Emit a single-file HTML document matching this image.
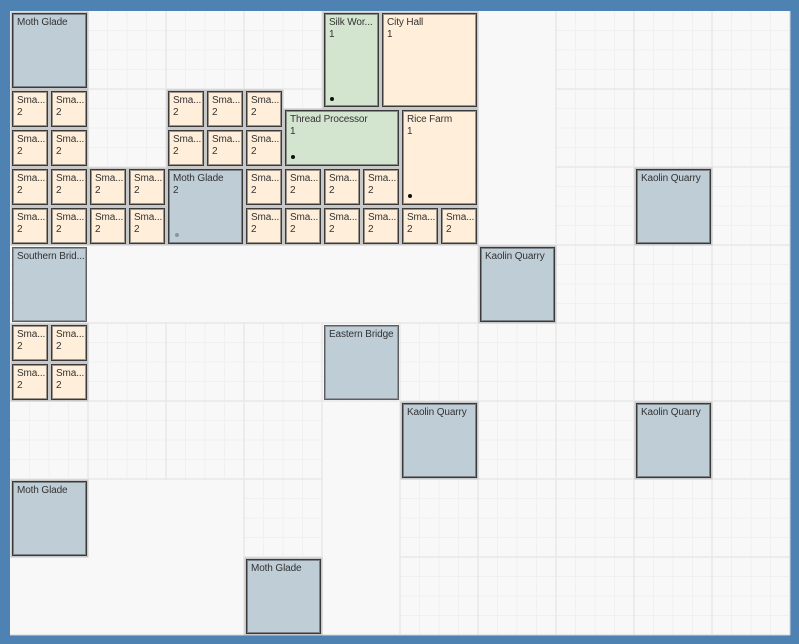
<!DOCTYPE html>
<html>
<head>
<meta charset="utf-8">
<style>
html,body{margin:0;padding:0;width:799px;height:644px;overflow:hidden;background:#4e82b2}
#root{position:relative;width:799px;height:644px;overflow:hidden;filter:blur(.3px);background:#4e82b2}
#root svg{position:absolute;left:0;top:0}
.n{position:absolute;box-sizing:border-box;border:1px solid #3a3a3a;padding:3px 0 0 4px;font:10px/11.5px "Liberation Sans",Arial,sans-serif;letter-spacing:-.12px;color:#333;white-space:nowrap;overflow:hidden;box-shadow:inset 0 0 0 1px rgba(60,60,60,.5),0 0 0 1.5px #c8c8c8}
.s{width:36px;height:36px;background:#ffeed9}
.b{width:75px;height:75px;background:#bfcdd7}
.p{background:#ffeed9}
.g{background:#d3e4cf}
.nh{box-shadow:inset 0 0 0 1px rgba(100,100,100,.5);border-color:#5e5e5e}
.d{position:absolute;width:4px;height:4px;border-radius:50%;background:#111}
</style>
</head>
<body>
<div id="root">
<svg width="799" height="644" xmlns="http://www.w3.org/2000/svg">
<rect x="10" y="11" width="780" height="624" fill="#f8f8f8"/>
<path fill="none" stroke="#f0f0f0" stroke-width="1" d="M29.5 11V635M49 11V635M68.5 11V635M107.5 11V635M127 11V635M146.5 11V635M185.5 11V635M205 11V635M224.5 11V635M263.5 11V635M283 11V635M302.5 11V635M341.5 11V635M361 11V635M380.5 11V635M419.5 11V635M439 11V635M458.5 11V635M497.5 11V635M517 11V635M536.5 11V635M575.5 11V635M595 11V635M614.5 11V635M653.5 11V635M673 11V635M692.5 11V635M731.5 11V635M751 11V635M770.5 11V635M10 30.5H790M10 50H790M10 69.5H790M10 108.5H790M10 128H790M10 147.5H790M10 186.5H790M10 206H790M10 225.5H790M10 264.5H790M10 284H790M10 303.5H790M10 342.5H790M10 362H790M10 381.5H790M10 420.5H790M10 440H790M10 459.5H790M10 498.5H790M10 518H790M10 537.5H790M10 576.5H790M10 596H790M10 615.5H790"/>
<path fill="none" stroke="#e8e8e8" stroke-width="1.5" d="M88 11V635M166 11V635M244 11V635M322 11V635M400 11V635M478 11V635M556 11V635M634 11V635M712 11V635M10 89H790M10 167H790M10 245H790M10 323H790M10 401H790M10 479H790M10 557H790"/>
<g fill="#f8f8f8">
<rect x="87" y="244" width="390" height="78"/>
<rect x="479" y="11" width="76" height="233"/>
<rect x="323" y="402" width="76" height="233"/>
<rect x="87" y="480" width="156" height="155"/>
<rect x="10" y="558" width="233" height="77"/>
</g>
<rect x="789.5" y="11" width="1" height="624" fill="#cfd6dc"/>
<rect x="10" y="634.5" width="780" height="1" fill="#cfd6dc"/>
</svg>

<div class="n b" style="left:12px;top:13px">Moth Glade</div>

<div class="n s" style="left:12px;top:91px">Sma...<br>2</div>
<div class="n s" style="left:51px;top:91px">Sma...<br>2</div>
<div class="n s" style="left:12px;top:130px">Sma...<br>2</div>
<div class="n s" style="left:51px;top:130px">Sma...<br>2</div>

<div class="n s" style="left:168px;top:91px">Sma...<br>2</div>
<div class="n s" style="left:207px;top:91px">Sma...<br>2</div>
<div class="n s" style="left:246px;top:91px">Sma...<br>2</div>
<div class="n s" style="left:168px;top:130px">Sma...<br>2</div>
<div class="n s" style="left:207px;top:130px">Sma...<br>2</div>
<div class="n s" style="left:246px;top:130px">Sma...<br>2</div>

<div class="n s" style="left:12px;top:169px">Sma...<br>2</div>
<div class="n s" style="left:51px;top:169px">Sma...<br>2</div>
<div class="n s" style="left:90px;top:169px">Sma...<br>2</div>
<div class="n s" style="left:129px;top:169px">Sma...<br>2</div>
<div class="n s" style="left:246px;top:169px">Sma...<br>2</div>
<div class="n s" style="left:285px;top:169px">Sma...<br>2</div>
<div class="n s" style="left:324px;top:169px">Sma...<br>2</div>
<div class="n s" style="left:363px;top:169px">Sma...<br>2</div>

<div class="n s" style="left:12px;top:208px">Sma...<br>2</div>
<div class="n s" style="left:51px;top:208px">Sma...<br>2</div>
<div class="n s" style="left:90px;top:208px">Sma...<br>2</div>
<div class="n s" style="left:129px;top:208px">Sma...<br>2</div>
<div class="n s" style="left:246px;top:208px">Sma...<br>2</div>
<div class="n s" style="left:285px;top:208px">Sma...<br>2</div>
<div class="n s" style="left:324px;top:208px">Sma...<br>2</div>
<div class="n s" style="left:363px;top:208px">Sma...<br>2</div>
<div class="n s" style="left:402px;top:208px">Sma...<br>2</div>
<div class="n s" style="left:441px;top:208px">Sma...<br>2</div>

<div class="n b" style="left:168px;top:169px">Moth Glade<br>2</div>
<div class="d" style="left:174.5px;top:233px;background:#8a979f"></div>

<div class="n g" style="left:324px;top:13px;width:55px;height:94px">Silk Wor...<br>1</div>
<div class="d" style="left:330px;top:96.5px"></div>
<div class="n p" style="left:382px;top:13px;width:95px;height:94px">City Hall<br>1</div>
<div class="n g" style="left:285px;top:110px;width:114px;height:56px">Thread Processor<br>1</div>
<div class="d" style="left:291px;top:155px"></div>
<div class="n p" style="left:402px;top:110px;width:75px;height:95px">Rice Farm<br>1</div>
<div class="d" style="left:408px;top:194px"></div>

<div class="n b" style="left:636px;top:169px">Kaolin Quarry</div>
<div class="n b nh" style="left:12px;top:247px">Southern Brid...</div>
<div class="n b" style="left:480px;top:247px">Kaolin Quarry</div>

<div class="n s" style="left:12px;top:325px">Sma...<br>2</div>
<div class="n s" style="left:51px;top:325px">Sma...<br>2</div>
<div class="n s" style="left:12px;top:364px">Sma...<br>2</div>
<div class="n s" style="left:51px;top:364px">Sma...<br>2</div>

<div class="n b nh" style="left:324px;top:325px">Eastern Bridge</div>
<div class="n b" style="left:402px;top:403px">Kaolin Quarry</div>
<div class="n b" style="left:636px;top:403px">Kaolin Quarry</div>
<div class="n b" style="left:12px;top:481px">Moth Glade</div>
<div class="n b" style="left:246px;top:559px">Moth Glade</div>
</div>
</body>
</html>
